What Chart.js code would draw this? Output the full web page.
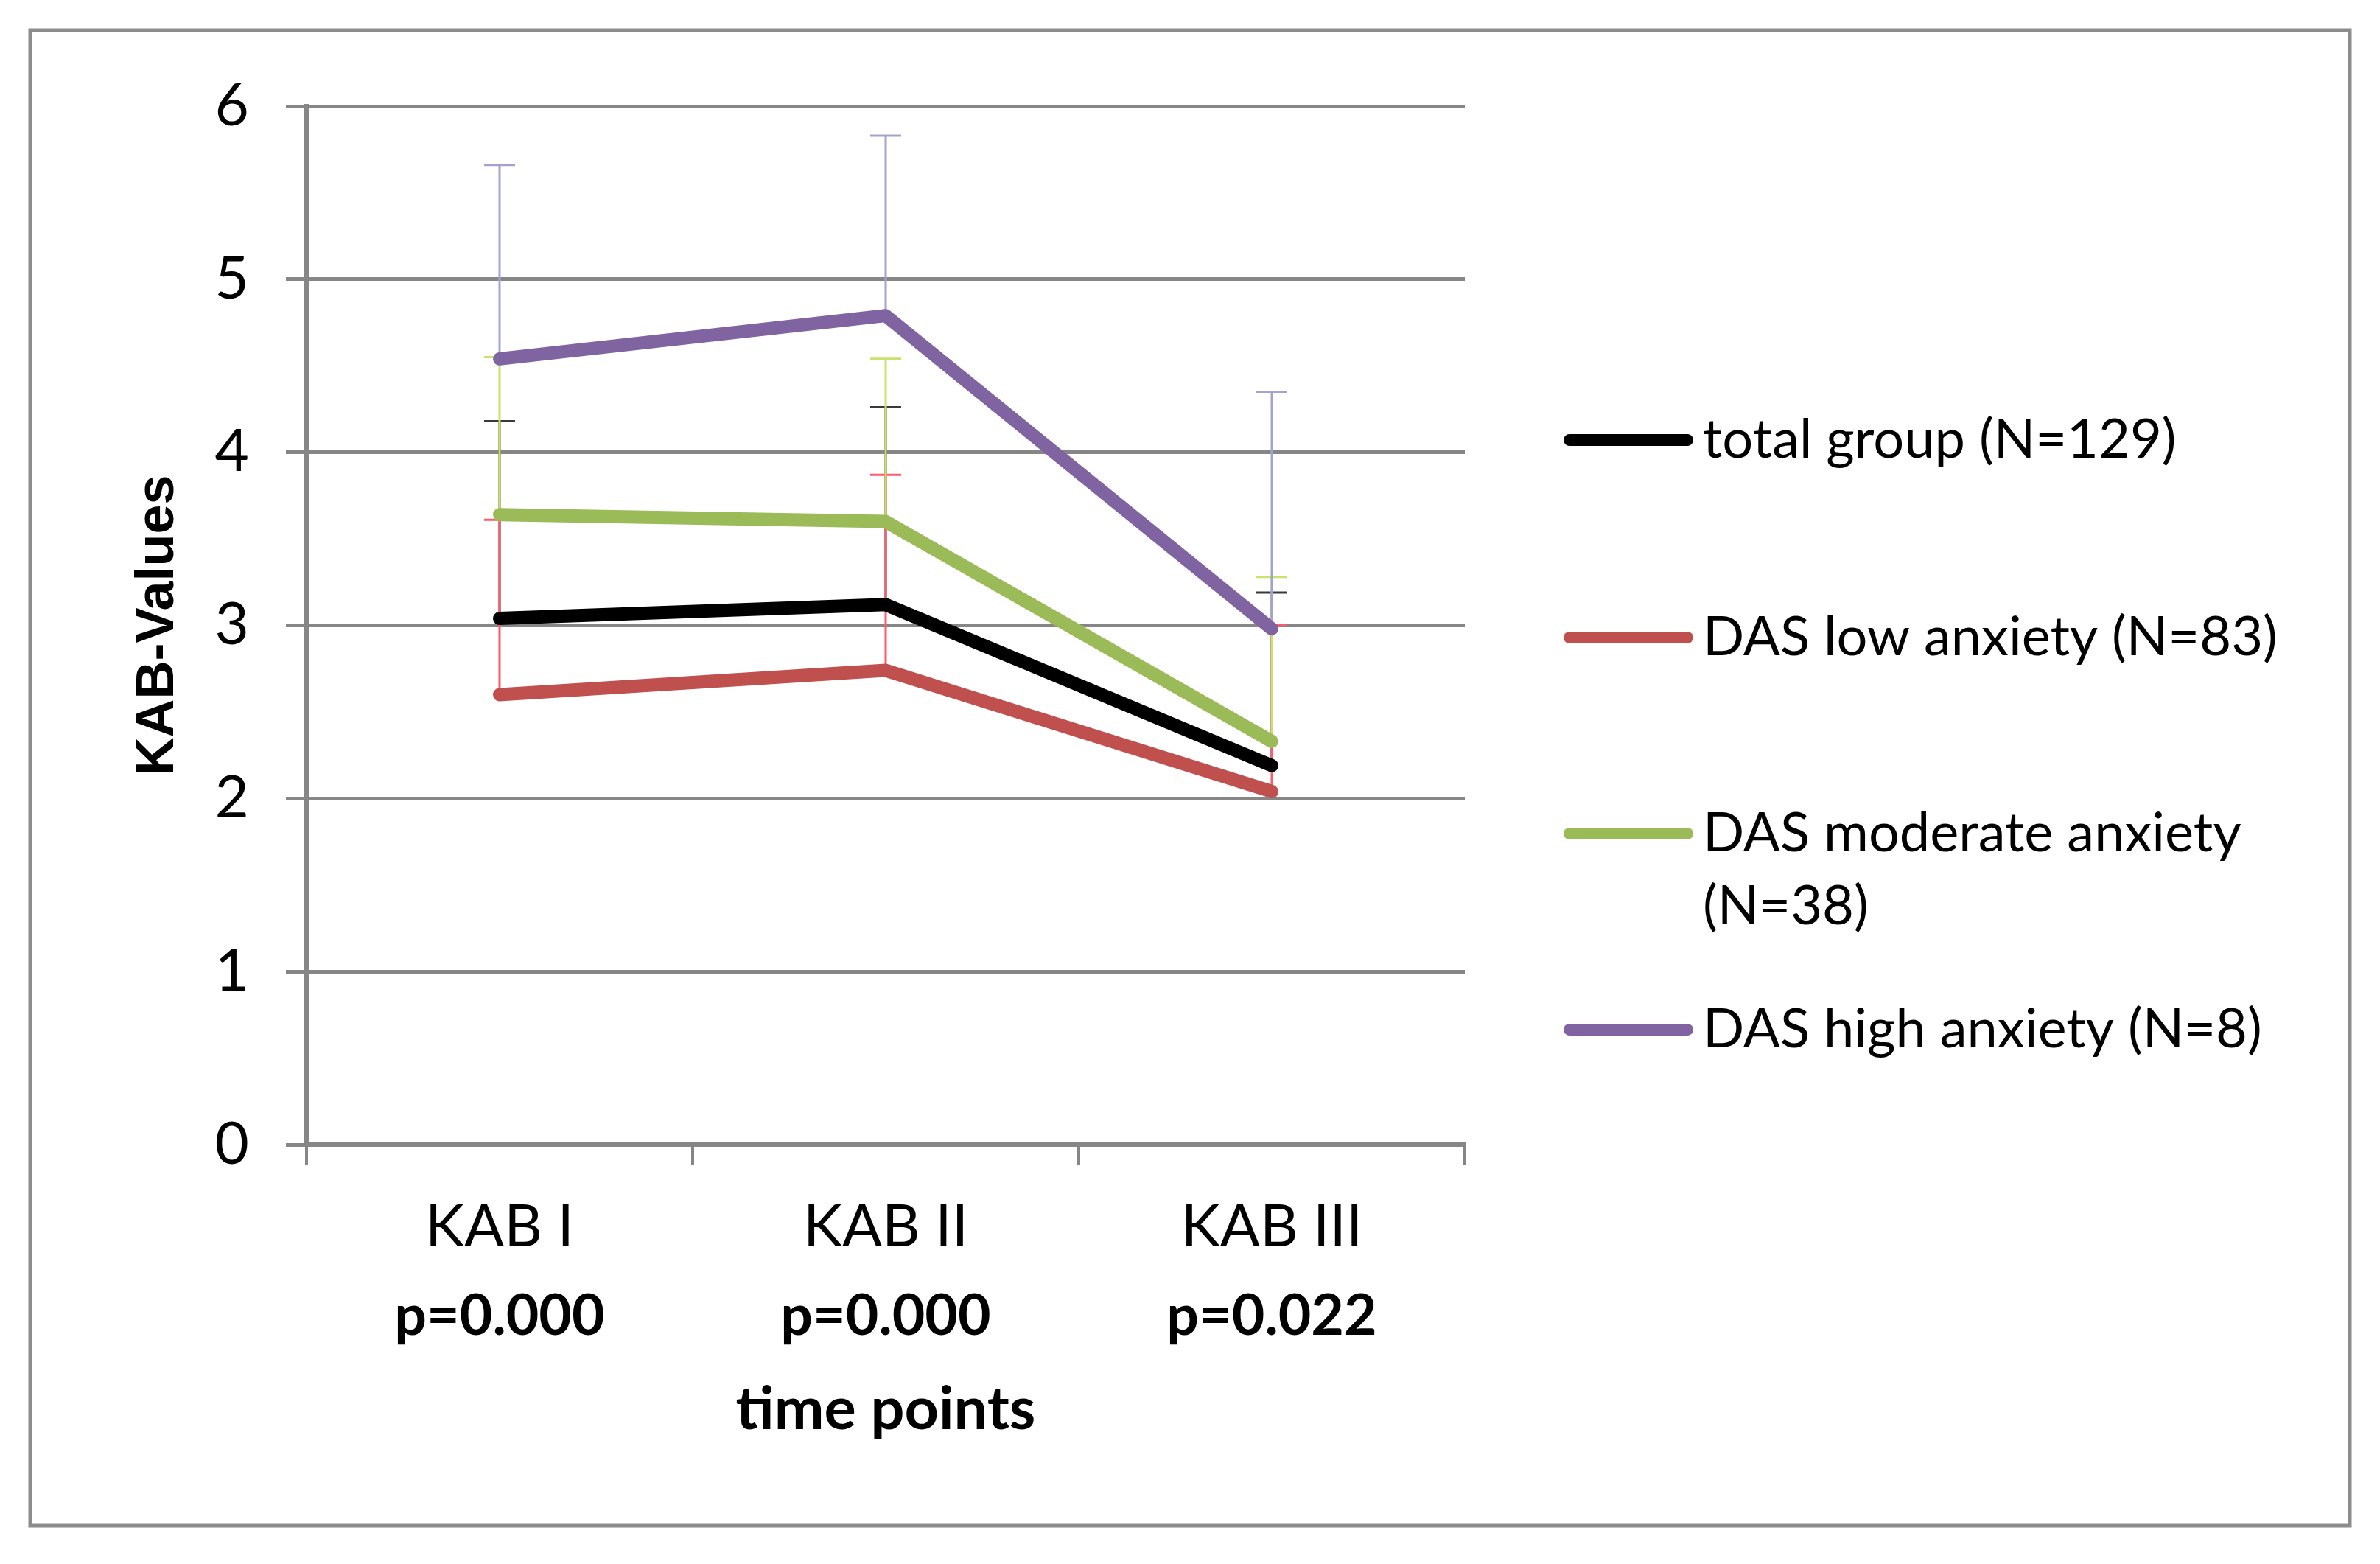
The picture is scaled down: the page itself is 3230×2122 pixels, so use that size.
<!DOCTYPE html>
<html>
<head>
<meta charset="utf-8">
<title>KAB-Values over time points</title>
<script src="https://cdn.jsdelivr.net/npm/chart.js@4.4.1/dist/chart.umd.min.js"></script>
<style>
  html, body { margin: 0; padding: 0; background: #fff; }
  #wrap { width: 3230px; height: 2122px; }
</style>
</head>
<body>
<div id="wrap"><canvas id="kabChart" width="3230" height="2122"></canvas></div>
<script>
// categories and p-values shown under each time point
var timePoints = ['KAB I', 'KAB II', 'KAB III'];
var pValues = ['p=0.000', 'p=0.000', 'p=0.022'];

// mean KAB values per group
var totalGroup = [3.04, 3.12, 2.19];
var lowAnxiety = [2.60, 2.74, 2.04];
var moderateAnxiety = [3.64, 3.60, 2.33];
var highAnxiety = [4.54, 4.79, 2.98];

// upper error bar (SD) per group
var totalGroupSd = [1.14, 1.14, 1.00];
var lowAnxietySd = [1.01, 1.13, 0.96];
var moderateAnxietySd = [0.91, 0.94, 0.95];
var highAnxietySd = [1.12, 1.04, 1.37];

var seriesLabels = [
    ['total group (N=129)'],
    ['DAS low anxiety (N=83)'],
    ['DAS moderate anxiety', '(N=38)'],
    ['DAS high anxiety (N=8)']
];

var GRID = '#868686';

function lineSet(label, data, color, sd, errColor) {
    return {
        label: label.join(' '),
        legendLines: label,
        data: data,
        errorPlus: sd,
        errorColor: errColor,
        borderColor: color,
        backgroundColor: color,
        borderWidth: 18,
        borderCapStyle: 'round',
        borderJoinStyle: 'round',
        pointRadius: 0,
        tension: 0
    };
}

// white page + grey frame round the whole figure
var framePlugin = {
    id: 'frame',
    beforeDraw: function (chart) {
        var ctx = chart.ctx;
        ctx.save();
        ctx.fillStyle = '#fff';
        ctx.fillRect(0, 0, chart.width, chart.height);
        ctx.strokeStyle = '#8c8c8c';
        ctx.lineWidth = 5;
        ctx.strokeRect(41, 41, 3148, 2029);
        ctx.restore();
    }
};

// plus-only error bars, drawn under the lines
var errorBarPlugin = {
    id: 'errorBars',
    beforeDatasetsDraw: function (chart) {
        var ctx = chart.ctx;
        var yScale = chart.scales.y;
        ctx.save();
        chart.data.datasets.forEach(function (ds, i) {
            var meta = chart.getDatasetMeta(i);
            ctx.strokeStyle = ds.errorColor;
            ctx.lineWidth = 3;
            meta.data.forEach(function (pt, j) {
                var top = yScale.getPixelForValue(ds.data[j] + ds.errorPlus[j]);
                ctx.beginPath();
                ctx.moveTo(pt.x, pt.y);
                ctx.lineTo(pt.x, top);
                ctx.moveTo(pt.x - 21, top);
                ctx.lineTo(pt.x + 21, top);
                ctx.stroke();
            });
        });
        ctx.restore();
    }
};

// legend on the right: short thick line + text
var sideLegendPlugin = {
    id: 'sideLegend',
    afterDraw: function (chart) {
        var ctx = chart.ctx;
        var rowsY = [597, 865, 1131, 1397];
        ctx.save();
        ctx.font = '74px Lato';
        ctx.textBaseline = 'middle';
        ctx.textAlign = 'left';
        chart.data.datasets.forEach(function (ds, i) {
            var y = rowsY[i];
            ctx.strokeStyle = ds.borderColor;
            ctx.lineWidth = 16;
            ctx.lineCap = 'round';
            ctx.beginPath();
            ctx.moveTo(2130, y);
            ctx.lineTo(2290, y);
            ctx.stroke();
            ctx.fillStyle = '#000';
            ds.legendLines.forEach(function (t, k) {
                ctx.fillText(t, 2311, y + k * 99);
            });
        });
        ctx.restore();
    }
};

function onSight() {
    var ctx = document.getElementById('kabChart').getContext('2d');

    new Chart(ctx, {
        type: 'line',
        data: {
            labels: timePoints,
            datasets: [
                lineSet(seriesLabels[0], totalGroup, '#000000', totalGroupSd, '#3a3a3a'),
                lineSet(seriesLabels[1], lowAnxiety, '#c0504d', lowAnxietySd, '#ff5a6e'),
                lineSet(seriesLabels[2], moderateAnxiety, '#9bbb59', moderateAnxietySd, '#c6e36a'),
                lineSet(seriesLabels[3], highAnxiety, '#8064a2', highAnxietySd, '#a3a3cf')
            ]
        },
        options: {
            responsive: false,
            devicePixelRatio: 1,
            animation: false,
            layout: { padding: { top: 144, right: 1242, bottom: 0, left: 0 } },
            plugins: {
                legend: { display: false },
                tooltip: { enabled: false }
            },
            scales: {
                x: {
                    type: 'category',
                    position: 'bottom',
                    offset: true,
                    weight: 0,
                    grid: {
                        offset: true,
                        drawOnChartArea: false,
                        drawTicks: true,
                        tickLength: 28,
                        color: GRID,
                        lineWidth: 4
                    },
                    border: { display: true, color: GRID, width: 6 },
                    ticks: {
                        font: { family: 'Lato', size: 80 },
                        color: '#000',
                        padding: 36,
                        maxRotation: 0
                    },
                    afterFit: function (scale) { scale.height = 160; }
                },
                x2: {
                    type: 'category',
                    position: 'bottom',
                    labels: pValues,
                    offset: true,
                    weight: 1,
                    grid: { display: false, drawTicks: false },
                    border: { display: false },
                    ticks: {
                        font: { family: 'Lato', size: 77, weight: 'bold' },
                        color: '#000',
                        padding: 27,
                        maxRotation: 0
                    },
                    title: {
                        display: true,
                        text: 'time points',
                        font: { family: 'Lato', size: 81, weight: 'bold' },
                        color: '#000',
                        padding: { top: 0, bottom: 161 }
                    },
                    afterFit: function (scale) { scale.height = 409; }
                },
                y: {
                    min: 0,
                    max: 6,
                    ticks: {
                        stepSize: 1,
                        font: { family: 'Lato', size: 80 },
                        color: '#000',
                        padding: 50
                    },
                    grid: {
                        color: GRID,
                        lineWidth: 5,
                        drawTicks: true,
                        tickLength: 28
                    },
                    border: { display: true, color: GRID, width: 6 },
                    title: {
                        display: true,
                        text: 'KAB-Values',
                        font: { family: 'Liberation Sans', size: 72, weight: 'bold' },
                        color: '#000',
                        padding: { top: 172, bottom: 0 }
                    },
                    afterFit: function (scale) { scale.width = 416; }
                }
            }
        },
        plugins: [framePlugin, errorBarPlugin, sideLegendPlugin]
    });
}

document.addEventListener('DOMContentLoaded', onSight);
</script>
</body>
</html>
